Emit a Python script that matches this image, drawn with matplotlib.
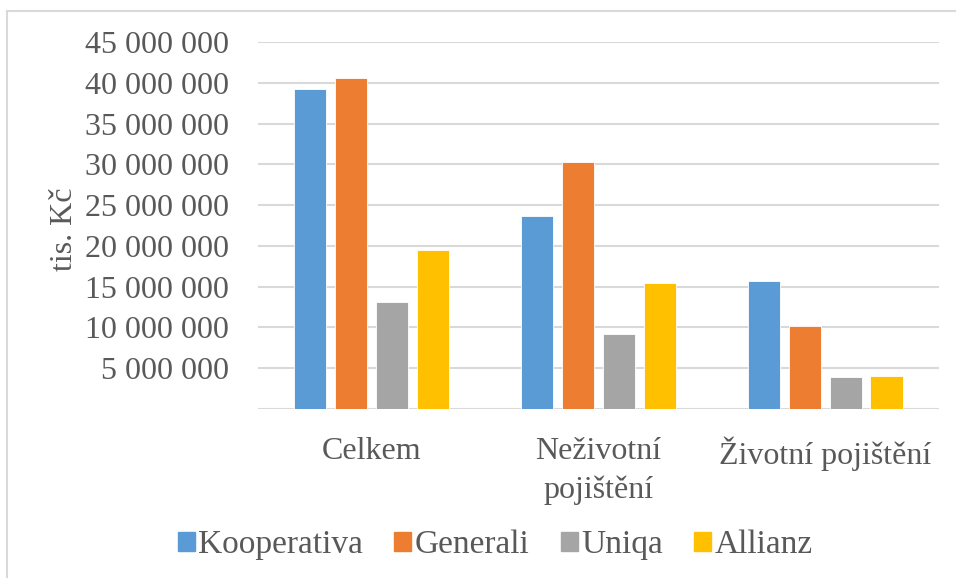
import numpy as np
import matplotlib.pyplot as plt
from matplotlib.lines import Line2D
from matplotlib.ticker import FuncFormatter

categories = ['Celkem', 'Neživotní\npojištění', 'Životní pojištění']
companies = ['Kooperativa', 'Generali', 'Uniqa', 'Allianz']
kooperativa = [39_300_000, 23_650_000, 15_650_000]
generali = [40_600_000, 30_250_000, 10_150_000]
uniqa = [13_150_000, 9_200_000, 3_880_000]
allianz = [19_550_000, 15_450_000, 4_000_000]
colors = ['#5B9BD5', '#ED7D31', '#A5A5A5', '#FFC000']

plt.rcParams['font.family'] = ['Liberation Serif', 'DejaVu Serif']
text_color = '#595959'

fig = plt.figure(figsize=(9.56, 5.78), dpi=100)
ax = fig.add_axes([0.270, 0.2924, 0.712, 0.6349])

x = np.arange(len(categories))
step = 0.18
width = 0.142
series = [kooperativa, generali, uniqa, allianz]
for i, (name, vals) in enumerate(zip(companies, series)):
    ax.bar(x + (i - 1.5) * step, vals, width, color=colors[i], label=name,
           edgecolor='white', linewidth=0.6, zorder=3)

ax.set_xlim(-0.5, len(categories) - 0.5)
ax.set_ylim(0, 45_000_000)
ax.set_yticks(np.arange(0, 45_000_001, 5_000_000))
ax.yaxis.set_major_formatter(FuncFormatter(
    lambda v, p: '' if v == 0 else '{:,.0f}'.format(v).replace(',', ' ')))
ax.grid(axis='y', color='#D9D9D9', linewidth=1.5, zorder=0)
ax.set_axisbelow(True)
for s in ['top', 'right', 'left', 'bottom']:
    ax.spines[s].set_visible(False)
ax.tick_params(axis='y', length=0, pad=21, labelsize=23, labelcolor=text_color)
ax.tick_params(axis='x', length=0, pad=20, labelsize=23, labelcolor=text_color)
ax.set_xticks(x)
ax.set_xticklabels(categories, linespacing=1.45)

ax.set_ylabel('tis. Kč', fontsize=23, color=text_color)
ax.yaxis.set_label_coords(-0.263, 0.49)

handles = [plt.Rectangle((0, 0), 1, 1, color=c) for c in colors]
fig.legend(handles, companies, loc='center', bbox_to_anchor=(0.518, 1 - 545 / 578),
           ncol=4, frameon=False, fontsize=24, labelcolor=text_color,
           handlelength=0.5, handleheight=0.5, handletextpad=0.1,
           columnspacing=0.95)

# chart border (only left and top edges visible in the crop)
fig.add_artist(Line2D([7 / 956, 7 / 956], [0, 1 - 11 / 578], color='#D9D9D9', lw=1.5))
fig.add_artist(Line2D([7 / 956, 1], [1 - 11 / 578, 1 - 11 / 578], color='#D9D9D9', lw=1.5))

fig.savefig('out.png', dpi=100)
